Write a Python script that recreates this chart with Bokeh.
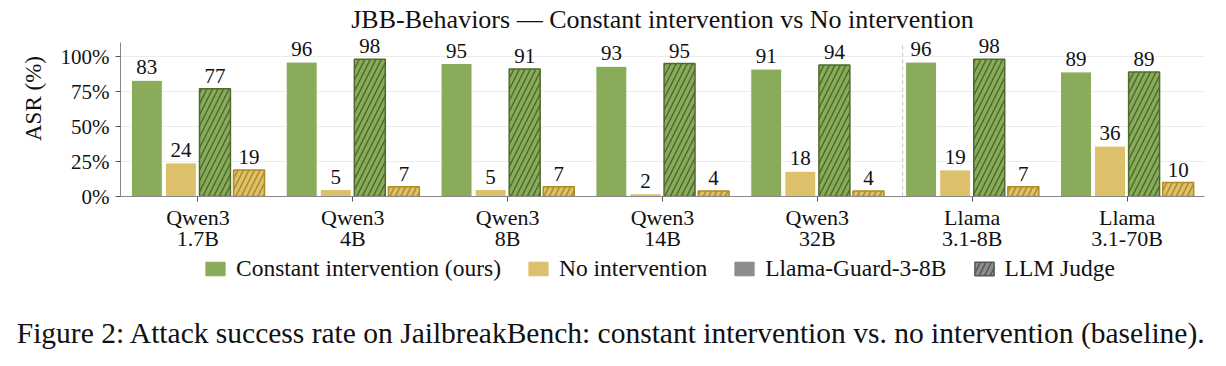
from bokeh.plotting import figure
from bokeh.layouts import column
from bokeh.models import (ColumnDataSource, Range1d, FixedTicker, PrintfTickFormatter,
                          Legend, LegendItem, Label)
from bokeh.transform import dodge
from bokeh.embed import file_html
from bokeh.resources import INLINE
from bokeh.core.properties import value

# ---------------- data ----------------
models = ["Qwen3\n1.7B", "Qwen3\n4B", "Qwen3\n8B", "Qwen3\n14B", "Qwen3\n32B",
          "Llama\n3.1-8B", "Llama\n3.1-70B"]
const_guard = [83, 96, 95, 93, 91, 96, 89]
none_guard = [24, 5, 5, 2, 18, 19, 36]
const_judge = [77, 98, 91, 95, 94, 98, 89]
none_judge = [19, 7, 7, 4, 4, 7, 10]
y_ticks = [0, 25, 50, 75, 100]
y_max = 110
legend_labels = ["Constant intervention (ours)", "No intervention",
                 "Llama-Guard-3-8B", "LLM Judge"]
title_text = "JBB-Behaviors \u2014 Constant intervention vs No intervention"
caption_text = ("Figure 2: Attack success rate on JailbreakBench: constant intervention "
                "vs. no intervention (baseline).")

# ---------------- style ----------------
FONT = "Liberation Serif"
GREEN = "#8aab5a"
YELLOW = "#dcc06c"
GREEN_DARK = "#4d6b2c"
YELLOW_DARK = "#b08a22"
GRAY = "#8c8c8c"
GRAY_DARK = "#555555"
TXT = "#111111"

src = ColumnDataSource(dict(
    x=list(range(len(models))),
    const_guard=const_guard, none_guard=none_guard,
    const_judge=const_judge, none_judge=none_judge,
    const_guard_t=[str(v) for v in const_guard],
    none_guard_t=[str(v) for v in none_guard],
    const_judge_t=[str(v) for v in const_judge],
    none_judge_t=[str(v) for v in none_judge],
))

# ---------------- main chart ----------------
p = figure(width=1226, height=256, output_backend="svg", toolbar_location=None,
           x_range=Range1d(-0.5, len(models) - 0.5), y_range=Range1d(0, 140),
           min_border_left=120, min_border_right=22, min_border_top=0,
           min_border_bottom=60)
p.outline_line_color = None
p.background_fill_color = "white"
p.border_fill_color = "white"
p.xgrid.grid_line_color = None
p.ygrid.grid_line_color = "#ececec"
p.ygrid.ticker = FixedTicker(ticks=y_ticks)

W = 0.2
specs = [
    ("const_guard", -0.33, GREEN, None, "white", 1.0),
    ("none_guard", -0.11, YELLOW, None, "white", 1.0),
    ("const_judge", 0.11, GREEN, GREEN_DARK, GREEN_DARK, 1.5),
    ("none_judge", 0.33, YELLOW, YELLOW_DARK, YELLOW_DARK, 1.5),
]
for col, off, fill, hatch, line, lw in specs:
    kw = {}
    if hatch is not None:
        kw = dict(hatch_pattern="/", hatch_color=hatch, hatch_scale=11, hatch_weight=1.5)
    p.vbar(x=dodge("x", off), top=col, width=W, source=src, fill_color=fill,
           line_color=line, line_width=lw, **kw)
    p.text(x=dodge("x", off), y=col, text=col + "_t", source=src, text_align="center",
           text_baseline="alphabetic", y_offset=-13, text_font=value(FONT),
           text_font_size="21px", text_color=TXT)

# dashed separator between the Qwen3 and Llama groups
p.segment(x0=4.55, y0=0, x1=4.55, y1=y_max, line_color="#cccccc",
          line_dash="4 3", line_width=1.2)

# axes
p.xaxis.ticker = FixedTicker(ticks=list(range(len(models))))
p.xaxis.major_label_overrides = {i: m for i, m in enumerate(models)}
p.xaxis.minor_tick_line_color = None
p.xaxis.major_tick_out = 5
p.xaxis.major_tick_in = 0
p.xaxis.major_label_text_font = FONT
p.xaxis.major_label_text_font_size = "22px"
p.xaxis.major_label_text_color = TXT
p.xaxis.major_label_text_line_height = 0.86
p.xaxis.major_label_standoff = 3
p.xaxis.axis_line_color = "#888888"
p.xaxis.major_tick_line_color = GRAY_DARK

p.yaxis.bounds = (0, y_max)
p.yaxis.ticker = FixedTicker(ticks=y_ticks)
p.yaxis.formatter = PrintfTickFormatter(format="%d%%")
p.yaxis.minor_tick_line_color = None
p.yaxis.major_tick_out = 5
p.yaxis.major_tick_in = 0
p.yaxis.major_label_text_font = FONT
p.yaxis.major_label_text_font_size = "21px"
p.yaxis.major_label_text_color = TXT
p.yaxis.major_label_standoff = 6
p.yaxis.axis_line_color = "#888888"
p.yaxis.major_tick_line_color = GRAY_DARK
p.yaxis.axis_label = "ASR (%)"
p.yaxis.axis_label_text_font = FONT
p.yaxis.axis_label_text_font_size = "23px"
p.yaxis.axis_label_text_font_style = "normal"
p.yaxis.axis_label_text_color = TXT
p.yaxis.axis_label_standoff = 12

p.add_layout(Label(x=542, y=177, x_units="screen", y_units="screen", text=title_text,
                   text_align="center", text_baseline="alphabetic", text_font=FONT,
                   text_font_size="26px", text_color=TXT))

# ---------------- legend + caption strip ----------------
q = figure(width=1226, height=110, output_backend="svg", toolbar_location=None,
           x_range=Range1d(100, 101), y_range=Range1d(-2, -1),
           x_axis_location=None, y_axis_location=None,
           min_border_left=0, min_border_right=0, min_border_top=0, min_border_bottom=0)
q.outline_line_color = None
q.grid.visible = False
q.background_fill_color = "white"
q.border_fill_color = "white"

# stop the strip's frame from being aligned with the chart frame
aligned_off = "frame_align" in q.properties()
if aligned_off:
    q.frame_align = False
    p.frame_align = False
x_shift = 0 if aligned_off else 120

# legend proxies (hidden renderers built from the data; only their legend swatches show)
lg_specs = [
    ("const_guard", GREEN, GREEN, None),
    ("none_guard", YELLOW, YELLOW, None),
    ("const_guard", GRAY, GRAY, None),
    ("const_judge", GRAY, GRAY_DARK, GRAY_DARK),
]
items = []
for lab, (col, fill, line, hatch) in zip(legend_labels, lg_specs):
    kw = {}
    if hatch is not None:
        kw = dict(hatch_pattern="/", hatch_color=hatch, hatch_scale=11, hatch_weight=1.5,
                  line_width=1.5)
    r = q.vbar(x="x", top=col, width=W, source=src, fill_color=fill, line_color=line, **kw)
    r.visible = False
    items.append(LegendItem(label=lab, renderers=[r]))

legend = Legend(items=items, orientation="horizontal", location=(203 - x_shift, 84))
legend.border_line_color = None
legend.background_fill_alpha = 0
legend.inactive_fill_alpha = 0
legend.padding = 0
legend.margin = 0
legend.spacing = 25
legend.label_standoff = 9
legend.glyph_width = 24
legend.glyph_height = 17
legend.label_height = 17
legend.label_text_font = FONT
legend.label_text_font_size = "23.5px"
legend.label_text_color = TXT
q.add_layout(legend)

q.add_layout(Label(x=611 - x_shift, y=34, x_units="screen", y_units="screen",
                   text=caption_text, text_align="center", text_baseline="alphabetic",
                   text_font=FONT, text_font_size="29.5px", text_color=TXT))

layout = column(p, q, spacing=0)
open("out.html", "w").write(file_html(layout, INLINE))
